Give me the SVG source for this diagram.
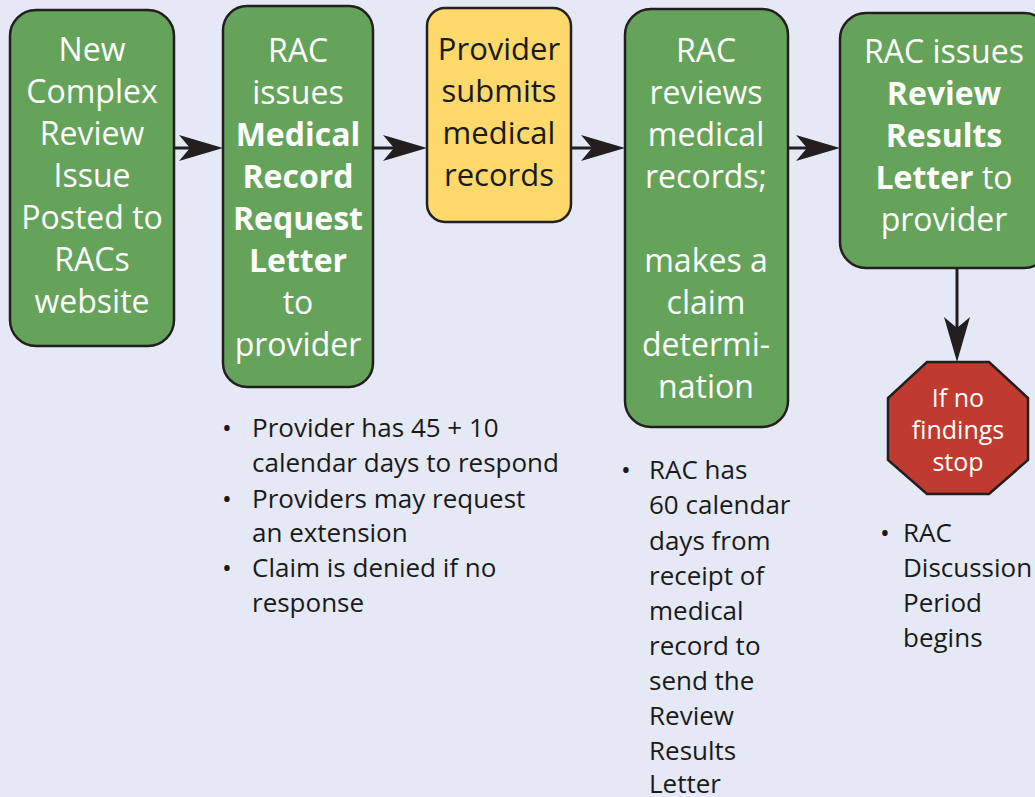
<svg xmlns="http://www.w3.org/2000/svg" width="1035" height="797" viewBox="0 0 1035 797">
<defs>
<style>
.box{stroke:#231f20;stroke-width:2.5}
.g{fill:#65a35b}
.y{fill:#fdd86b}
.r{fill:#bf3b2f}
.bt{font-family:"Open Sans","Noto Sans",sans-serif;font-size:32px;fill:#ffffff;text-anchor:middle}
.dk{fill:#1a1a1a}
.b{font-weight:bold}
.nt{font-family:"Open Sans","Noto Sans",sans-serif;font-size:26px;fill:#1a1a1a}
.st{font-family:"Open Sans","Noto Sans",sans-serif;font-size:25px;fill:#ffffff;text-anchor:middle}
.ln{stroke:#231f20;stroke-width:3;fill:none}
.ah{fill:#231f20}
</style>
</defs>
<rect x="0" y="0" width="1035" height="797" fill="#e5e8f5"/>
<g id="connectors">
<line class="ln" x1="174" y1="148" x2="200" y2="148"/>
<path class="ah" d="M223,148 L179,135 L190,148 L179,161 Z"/>
<line class="ln" x1="373" y1="148" x2="400" y2="148"/>
<path class="ah" d="M427,148 L383,135 L394,148 L383,161 Z"/>
<line class="ln" x1="571" y1="148" x2="600" y2="148"/>
<path class="ah" d="M625,148 L581,135 L592,148 L581,161 Z"/>
<line class="ln" x1="788" y1="148" x2="815" y2="148"/>
<path class="ah" d="M840,148 L796,135 L807,148 L796,161 Z"/>
<line class="ln" x1="957" y1="268" x2="957" y2="335"/>
<path class="ah" d="M957,362 L944,317 L957,328 L970,317 Z"/>
</g>
<g id="node1">
<rect class="box g" x="10" y="10" width="164" height="336" rx="26"/>
<text class="bt"><tspan x="92" y="61">New</tspan><tspan x="92" y="103">Complex</tspan><tspan x="92" y="145">Review</tspan><tspan x="92" y="187">Issue</tspan><tspan x="92" y="229">Posted to</tspan><tspan x="92" y="271">RACs</tspan><tspan x="92" y="313">website</tspan></text>
</g>
<g id="node2">
<rect class="box g" x="223" y="6" width="150" height="381" rx="24"/>
<text class="bt"><tspan x="298" y="62">RAC</tspan><tspan x="298" y="104">issues</tspan><tspan x="298" y="146" class="b">Medical</tspan><tspan x="298" y="188" class="b">Record</tspan><tspan x="298" y="230" class="b">Request</tspan><tspan x="298" y="272" class="b">Letter</tspan><tspan x="298" y="314">to</tspan><tspan x="298" y="356">provider</tspan></text>
</g>
<g id="node3">
<rect class="box y" x="427" y="8" width="144" height="214" rx="18"/>
<text class="bt dk" style="font-size:31px"><tspan x="499" y="60">Provider</tspan><tspan x="499" y="102">submits</tspan><tspan x="499" y="144">medical</tspan><tspan x="499" y="186">records</tspan></text>
</g>
<g id="node4">
<rect class="box g" x="625" y="9" width="163" height="418" rx="26"/>
<text class="bt"><tspan x="706" y="62">RAC</tspan><tspan x="706" y="104">reviews</tspan><tspan x="706" y="146">medical</tspan><tspan x="706" y="188">records;</tspan><tspan x="706" y="272">makes a</tspan><tspan x="706" y="314">claim</tspan><tspan x="706" y="356">determi-</tspan><tspan x="706" y="398">nation</tspan></text>
</g>
<g id="node5">
<rect class="box g" x="840" y="13" width="210" height="255" rx="26"/>
<text class="bt" x="944" y="63">RAC issues</text>
<text class="bt b" x="944" y="105">Review</text>
<text class="bt b" x="944" y="147">Results</text>
<text class="bt" x="944" y="189"><tspan class="b">Letter</tspan> to</text>
<text class="bt" x="944" y="231">provider</text>
</g>
<g id="node6">
<polygon class="box r" points="927,362 989,362 1028,398 1028,460 989,494 927,494 888,460 888,398"/>
<text class="st"><tspan x="958" y="407">If no</tspan><tspan x="958" y="439">findings</tspan><tspan x="958" y="471">stop</tspan></text>
</g>
<g id="notes1">
<text class="nt"><tspan x="222" y="437">•</tspan><tspan x="222" y="508">•</tspan><tspan x="222" y="577">•</tspan></text>
<text class="nt"><tspan x="252" y="437">Provider has 45 + 10</tspan><tspan x="252" y="472">calendar days to respond</tspan><tspan x="252" y="508">Providers may request</tspan><tspan x="252" y="542">an extension</tspan><tspan x="252" y="577">Claim is denied if no</tspan><tspan x="252" y="612">response</tspan></text>
</g>
<g id="notes2">
<text class="nt" x="621" y="479">•</text>
<text class="nt"><tspan x="649" y="479">RAC has</tspan><tspan x="649" y="514">60 calendar</tspan><tspan x="649" y="550">days from</tspan><tspan x="649" y="585">receipt of</tspan><tspan x="649" y="620">medical</tspan><tspan x="649" y="655">record to</tspan><tspan x="649" y="690">send the</tspan><tspan x="649" y="725">Review</tspan><tspan x="649" y="760">Results</tspan><tspan x="649" y="793">Letter</tspan></text>
</g>
<g id="notes3">
<text class="nt" x="880" y="542">•</text>
<text class="nt"><tspan x="903" y="542">RAC</tspan><tspan x="903" y="577">Discussion</tspan><tspan x="903" y="612">Period</tspan><tspan x="903" y="647">begins</tspan></text>
</g>
</svg>
